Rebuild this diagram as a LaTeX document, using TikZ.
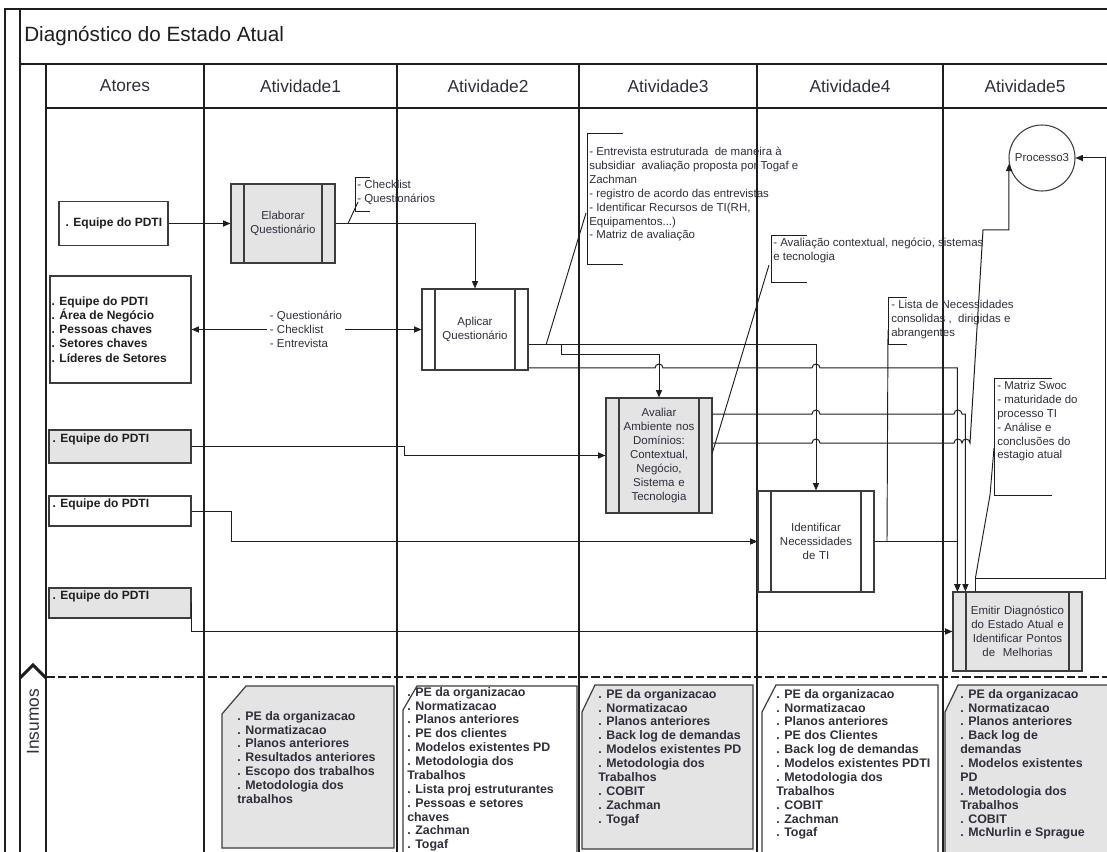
\documentclass[tikz,border=0pt]{standalone}
\usepackage{fontspec}
\setmainfont{Liberation Sans}
\usetikzlibrary{arrows.meta,calc}

\definecolor{ink}{HTML}{1E1E1E}
\definecolor{txt}{HTML}{2F2F3C}
\definecolor{edge}{HTML}{3C3C3C}
\definecolor{shade}{HTML}{E4E4E4}

\newcommand\ttlfont{\fontsize{15.5}{18}\selectfont}
\newcommand\hdrfont{\fontsize{13}{15}\selectfont}
\newcommand\lblfont{\fontsize{8.6}{10.6}\selectfont}
\newcommand\annotfont{\fontsize{8.6}{10.4}\selectfont}
\newcommand\actfont{\fontsize{9}{10.6}\selectfont\bfseries}
\newcommand\insfont{\fontsize{9.3}{10.4}\selectfont\bfseries}

\tikzset{
  rule/.style={draw=ink, line width=0.8pt},
  conn/.style={draw=ink, line width=0.75pt},
  arr/.style={-{Triangle[length=5.5pt,width=4.6pt]}},
  arrtwo/.style={{Triangle[length=5.5pt,width=4.6pt]}-{Triangle[length=5.5pt,width=4.6pt]}},
  procbox/.style={draw=edge, line width=0.9pt, fill=#1, inner sep=1pt, align=center,
    font=\lblfont, text=txt,
    path picture={
      \draw[edge, line width=0.9pt]
        ([xshift=9.75pt]path picture bounding box.north west) --
        ([xshift=9.75pt]path picture bounding box.south west)
        ([xshift=-9.75pt]path picture bounding box.north east) --
        ([xshift=-9.75pt]path picture bounding box.south east);
    }},
  actbox/.style={draw=edge, line width=0.9pt, fill=#1, inner sep=0pt},
  acttext/.style={inner sep=0pt, align=left, font=\actfont, text=ink},
  bracket/.style={draw=ink, line width=0.7pt},
  leader/.style={draw=ink, line width=0.7pt},
  annot/.style={anchor=north west, inner sep=0pt, align=left, font=\annotfont, text=txt},
  insbox/.style={draw=edge, line width=0.9pt, fill=#1},
  instext/.style={anchor=north west, inner sep=0pt, align=left, font=\insfont, text=txt},
  hdr/.style={font=\hdrfont, text=txt},
}

\begin{document}
\begin{tikzpicture}[x=0.75pt,y=-0.75pt]
\useasboundingbox (0,0) rectangle (1107,852);
\clip (0,0) rectangle (1107,852);
\fill[white] (0,0) rectangle (1107,852);

% pool frame, title bar and lanes
\draw[rule] (5,852) -- (5,9) -- (1107,9);
\draw[rule] (20,9) -- (20,852);
\draw[rule] (20,64) -- (1107,64);
\draw[rule] (46,108) -- (1107,108);
\foreach \cx in {46,204,397,579,757,943} \draw[rule] (\cx,64) -- (\cx,852);

\node[anchor=west, inner sep=0pt, font=\ttlfont, text=ink] (title) at (24,36) {Diagnóstico do Estado Atual};

\node[hdr] (hA) at (125,86) {Atores};
\node[hdr] (h1) at (300.5,86) {Atividade1};
\node[hdr] (h2) at (488,86) {Atividade2};
\node[hdr] (h3) at (668,86) {Atividade3};
\node[hdr] (h4) at (850,86) {Atividade4};
\node[hdr] (h5) at (1025,86) {Atividade5};

% lane separator for the inputs
\draw[ink, line width=2.2pt, dash pattern=on 6.5pt off 2.2pt] (46,677) -- (1107,677);
\draw[ink, line width=2.2pt] (20,678) -- (33,665) -- (46,678);
\node[hdr, rotate=90] (ins) at (33,722) {Insumos};

% actors
\node[actbox=white, minimum width=81.75pt, minimum height=33pt] (a1) at (113.5,223.5) {};
\node[acttext, anchor=west] (a1t) at ($(a1.west)+(7,0)$) {. Equipe do PDTI};
\node[actbox=white, minimum width=105.75pt, minimum height=80.25pt] (a2) at (120.5,329.5) {};
\node[acttext, anchor=west] (a2t) at ($(a2.west)+(2,0)$)
      {. Equipe do PDTI\\. Área de Negócio\\. Pessoas chaves\\. Setores chaves\\. Líderes de Setores};
\node[actbox=shade, minimum width=106.5pt, minimum height=24.75pt] (a3) at (120,446.5) {};
\node[acttext, anchor=north west] (a3t) at ($(a3.north west)+(4,4)$) {. Equipe do PDTI};
\node[actbox=white, minimum width=106.5pt, minimum height=22.5pt] (a4) at (120,511) {};
\node[acttext, anchor=north west] (a4t) at ($(a4.north west)+(4,3)$) {. Equipe do PDTI};
\node[actbox=shade, minimum width=106.5pt, minimum height=22.5pt] (a5) at (120,603) {};
\node[acttext, anchor=north west] (a5t) at ($(a5.north west)+(4,3)$) {. Equipe do PDTI};

% activities
\node[procbox=shade, minimum width=78pt, minimum height=59.25pt, text width=56pt] (ela) at (283,223.5) {Elaborar\\Questionário};
\node[procbox=white, minimum width=79.5pt, minimum height=60.75pt, text width=56pt] (apl) at (475,329.5) {Aplicar\\Questionário};
\node[procbox=shade, minimum width=79.5pt, minimum height=86.25pt, text width=57pt] (ava) at (659,455.5)
      {Avaliar\\Ambiente nos\\Domínios:\\Contextual,\\Negócio,\\Sistema e\\Tecnologia};
\node[procbox=white, minimum width=87pt, minimum height=75.75pt, text width=64pt] (ide) at (816,541.5)
      {Identificar\\Necessidades\\de TI};
\node[procbox=shade, minimum width=96.75pt, minimum height=59.25pt, text width=76pt] (emi) at (1017.5,631.5)
      {Emitir Diagnóstico\\do Estado Atual e\\Identificar Pontos\\de\ \ Melhorias};
\node[circle, draw=edge, line width=0.8pt, fill=white, minimum size=49.5pt, inner sep=0pt,
      font=\lblfont, text=txt] (p3) at (1042,158) {Processo3};

% connection points on the top of the last activity
\coordinate (e1) at ($(emi.north west)+(5,0)$);
\coordinate (e2) at ($(emi.north west)+(13,0)$);
\coordinate (e3) at ($(emi.north west)+(23,0)$);
\coordinate (br) at (561,345);

% flows
\draw[conn,arr] (a1.east) -- (ela.west);
\draw[conn,arr] (ela.east) -| (apl.north);
\draw[conn,arrtwo] (a2.east) -- (apl.west);
\node[fill=white, inner sep=2pt, align=left, font=\annotfont, text=txt] (qlbl) at (306,329)
      {- Questionário\\- Checklist\\- Entrevista};

\draw[conn,arr] (apl.east |- br) -- (ide.north |- br) -- (ide.north);
\draw[conn,arr] (br) -- (561,355) -- (ava.north |- 0,355) -- (ava.north);
\draw[conn,arr] (apl.east |- 0,368) -- (655,368) arc[start angle=180,end angle=360,radius=4]
      -- (812,368) arc[start angle=180,end angle=360,radius=4] -- (e1 |- 0,368) -- (e1);
\draw[conn,arr] (ava.east |- 0,414) -- (812,414) arc[start angle=180,end angle=360,radius=4]
      -- (954,414) arc[start angle=180,end angle=360,radius=4] -- (e2 |- 0,414) -- (e2);
\draw[conn,arr] (ava.east |- 0,443) -- (812,443) arc[start angle=180,end angle=360,radius=4]
      -- (954,443) arc[start angle=180,end angle=360,radius=4] arc[start angle=180,end angle=360,radius=4]
      -- (983,230) -- (p3.190 |- 0,230) -- (p3.190);
\draw[conn,arr] (ide.east) -- (e1 |- ide.east) -- (e1);
\draw[conn,arr] (a3.east) -- (404,0 |- a3.east) -- (404,0 |- ava.west) -- (ava.west);
\draw[conn,arr] (a4.east) -- (231,0 |- a4.east) -- (231,0 |- ide.west) -- (ide.west);
\draw[conn,arr] (a5.east) -- (a5.east |- emi.west) -- (emi.west);
\draw[conn,arr] (e3) -- (e3 |- 0,578) -- (1105,578) -- (1105,0 |- p3.east) -- (p3.east);

% annotations
\draw[bracket] (370,177) -- (355,177) -- (355,211) -- (370,211);
\node[annot] (n1) at (357,180) {- Checklist\\- Questionários};
\draw[leader] (358,202) -- (348,223.5);

\draw[bracket] (623,133) -- (587,133) -- (587,264) -- (623,264);
\node[annot] (n2) at (589,147) {- Entrevista estruturada\ \ de maneira à\\subsidiar\ \ avaliação proposta por Togaf e\\Zachman\\- registro de acordo das entrevistas\\- Identificar Recursos de TI(RH,\\Equipamentos...)\\- Matriz de avaliação};
\draw[leader] (586,213) -- (546,345);

\draw[bracket] (807,235) -- (771,235) -- (771,282) -- (807,282);
\node[annot] (n3) at (773,238) {- Avaliação contextual, negócio, sistemas\\e tecnologia};
\draw[leader] (769,265) -- (712,454);

\draw[bracket] (907,297) -- (888,297) -- (888,344) -- (907,344);
\node[annot] (n4) at (891,300) {- Lista de Necessidades\\consolidas ,\ \ dirigidas e\\abrangentes};
\draw[leader] (888,330) -- (887,0 |- ide.east);

\draw[bracket] (1052,378) -- (994,378) -- (994,495) -- (1052,495);
\node[annot] (n5) at (997,381) {- Matriz Swoc\\- maturidade do\\processo TI\\- Análise e\\conclusões do\\estagio atual};
\draw[leader] (994,448) -- (990,495) -- (e3 |- 0,578);

% inputs of each activity
\draw[insbox=shade] (222,714) -- (246,686) -- (394,686) -- (394,848) -- (222,848) -- cycle;
\node[instext] (i1) at (237,711) {. PE da organizacao\\. Normatizacao\\. Planos anteriores\\. Resultados anteriores\\. Escopo dos trabalhos\\. Metodologia dos\\trabalhos};
\draw[insbox=white] (403,710) -- (417,686) -- (577,686) -- (577,870) -- (403,870) -- cycle;
\node[instext] (i2) at (407,687) {. PE da organizacao\\. Normatizacao\\. Planos anteriores\\. PE dos clientes\\. Modelos existentes PD\\. Metodologia dos\\Trabalhos\\. Lista proj estruturantes\\. Pessoas e setores\\chaves\\. Zachman\\. Togaf};
\draw[insbox=shade] (582,712) -- (595,685) -- (753,685) -- (753,849) -- (582,849) -- cycle;
\node[instext] (i3) at (598,689) {. PE da organizacao\\. Normatizacao\\. Planos anteriores\\. Back log de demandas\\. Modelos existentes PD\\. Metodologia dos\\Trabalhos\\. COBIT\\. Zachman\\. Togaf};
\draw[insbox=white] (762,712) -- (776,685) -- (938,685) -- (938,870) -- (762,870) -- cycle;
\node[instext] (i4) at (776,689) {. PE da organizacao\\. Normatizacao\\. Planos anteriores\\. PE dos Clientes\\. Back log de demandas\\. Modelos existentes PDTI\\. Metodologia dos\\Trabalhos\\. COBIT\\. Zachman\\. Togaf};
\draw[insbox=shade] (945,712) -- (958,685) -- (1120,685) -- (1120,870) -- (945,870) -- cycle;
\node[instext] (i5) at (960,689) {. PE da organizacao\\. Normatizacao\\. Planos anteriores\\. Back log de\\demandas\\. Modelos existentes\\PD\\. Metodologia dos\\Trabalhos\\. COBIT\\. McNurlin e Sprague};
\end{tikzpicture}
\end{document}
